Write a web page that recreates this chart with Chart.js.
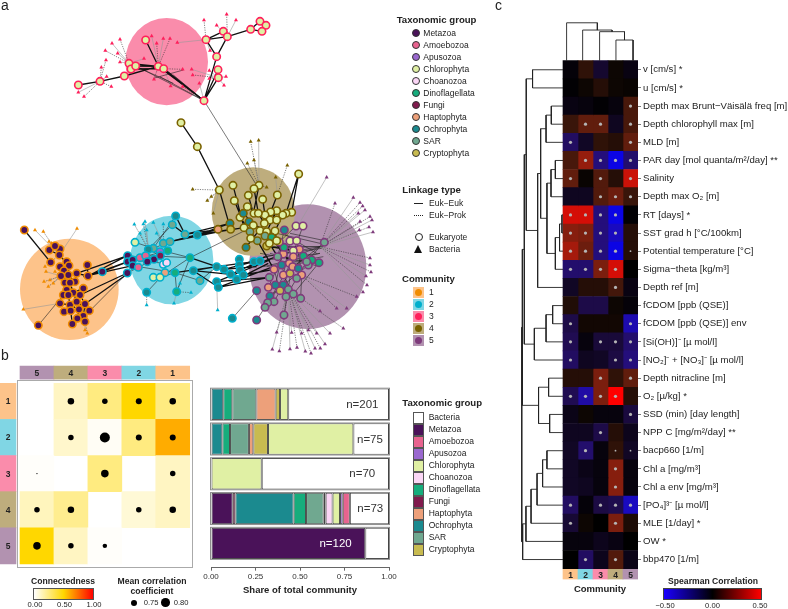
<!DOCTYPE html>
<html>
<head>
<meta charset="utf-8">
<title>Plankton community network</title>
<script src="https://cdn.jsdelivr.net/npm/chart.js"></script>
<style>
  html, body { margin: 0; background: #fff; }
  #page { position: relative; width: 788px; height: 609px; overflow: hidden; font-family: "Liberation Sans", Arial, sans-serif; color: #222; }
  canvas { position: absolute; }
  .txt { position: absolute; white-space: nowrap; line-height: 1; }
  .box { position: absolute; box-sizing: border-box; }
</style>
</head>
<body>
<div id="page">
  <canvas id="network" width="378" height="356" style="left:0;top:0"></canvas>
  <canvas id="connect" width="194" height="208" style="left:0;top:360px"></canvas>
  <canvas id="shares" width="200" height="216" style="left:200px;top:380px"></canvas>
  <canvas id="spearman" width="288" height="609" style="left:500px;top:0"></canvas>
</div>
<script>
// ---------- shared names and colours ----------
const taxa = { M: 'Metazoa', A: 'Amoebozoa', P: 'Apusozoa', C: 'Chlorophyta', N: 'Choanozoa', D: 'Dinoflagellata', F: 'Fungi', H: 'Haptophyta', O: 'Ochrophyta', S: 'SAR', Y: 'Cryptophyta' };
const taxaColors = { M: '#4a1259', A: '#e8638f', P: '#9a68cf', C: '#e0f0a4', N: '#fbd6f6', D: '#16ad7c', F: '#801a4d', H: '#eda07a', O: '#1b8a8f', S: '#70a890', Y: '#c8bb50' };
const communityFill = { 1: '#fdc38a', 2: '#80d6e4', 3: '#fa8cab', 4: '#bead7d', 5: '#b292b0' };
const communityEdge = { 1: '#f08c00', 2: '#00afcc', 3: '#ff1f5b', 4: '#7a6200', 5: '#7f3b7c' };

// ---------- panel a: network, values in layout units ----------
const blob1 = [208, 868, 148, 152];
const blob2 = [515, 780, 125, 133];
const blob3 = [500, 185, 124, 131];
const blob4 = [760, 635, 125, 133];
const blob5 = [923, 800, 176, 187];

const nodes3 = [[437,120,'C'],[387,190,'C'],[393,207,'C'],[407,198,'C'],[373,228,'C'],[300,244,'C'],[235,255,'C'],[475,199,'C'],[491,206,'C'],[618,119,'C'],[670,94,'C'],[682,110,'C'],[650,170,'C'],[654,209,'C'],[655,233,'C'],[612,302,'C'],[752,88,'C'],[780,64,'C'],[798,76,'C'],[786,94,'C']];
const nodes1 = [[73,690,'M'],[148,750,'M'],[180,747,'M'],[165,738,'M'],[178,765,'M'],[152,787,'M'],[200,785,'M'],[207,797,'M'],[180,800,'M'],[262,795,'M'],[192,812,'M'],[183,828,'M'],[205,825,'M'],[230,820,'M'],[264,828,'M'],[225,845,'M'],[195,848,'M'],[210,848,'M'],[250,865,'M'],[200,870,'M'],[190,885,'M'],[220,878,'M'],[240,885,'M'],[180,910,'M'],[210,915,'M'],[192,935,'M'],[212,932,'M'],[237,928,'M'],[255,912,'M'],[268,932,'M'],[250,948,'M'],[232,955,'M'],[217,972,'M'],[255,965,'M'],[115,976,'M'],[205,885,'M'],[230,905,'M']];
const nodes2 = [[527,648,'O'],[517,674,'S'],[405,727,'C'],[555,703,'S'],[592,705,'O'],[490,730,'S'],[510,725,'S'],[460,745,'S'],[445,748,'O'],[503,752,'D'],[480,755,'P'],[383,767,'M'],[383,785,'M'],[398,780,'M'],[398,797,'M'],[420,773,'A'],[437,767,'A'],[462,778,'M'],[481,767,'F'],[442,785,'M'],[415,802,'A'],[382,819,'M'],[307,815,'M'],[570,773,'D'],[490,793,'N'],[500,788,'N'],[495,818,'H'],[525,818,'D'],[460,832,'C'],[480,832,'C'],[580,812,'O'],[600,842,'S'],[530,875,'D'],[440,877,'O'],[650,800,'O'],[672,808,'O'],[692,823,'O'],[718,778,'O'],[718,795,'O'],[720,810,'O'],[730,825,'O'],[710,838,'O'],[650,845,'O'],[655,862,'O'],[762,785,'O'],[780,783,'O'],[697,955,'O']];
const nodes5 = [[973,727,'S'],[957,788,'D'],[935,780,'D'],[925,795,'S'],[910,768,'D'],[898,748,'H'],[880,752,'C'],[880,770,'H'],[868,790,'H'],[850,762,'H'],[852,742,'D'],[838,726,'Y'],[853,690,'O'],[888,678,'C'],[909,678,'C'],[870,723,'C'],[890,722,'C'],[833,770,'S'],[845,795,'O'],[822,808,'H'],[808,832,'S'],[850,825,'H'],[870,820,'Y'],[905,825,'H'],[920,785,'S'],[890,835,'S'],[850,855,'O'],[826,855,'O'],[805,862,'H'],[840,872,'Y'],[865,868,'S'],[880,882,'S'],[902,895,'S'],[858,890,'S'],[810,888,'O'],[822,905,'S'],[803,908,'S'],[795,922,'S'],[852,945,'S'],[770,960,'O'],[770,872,'O'],[878,800,'H'],[895,805,'O']];
const nodes4 = [[896,522,'C'],[699,556,'C'],[658,570,'C'],[777,556,'C'],[762,566,'C'],[745,586,'C'],[703,602,'C'],[788,598,'C'],[832,585,'C'],[742,620,'C'],[762,640,'C'],[720,652,'C'],[730,640,'O'],[875,637,'C'],[858,640,'C'],[848,645,'C'],[830,632,'C'],[812,636,'C'],[795,645,'C'],[775,640,'C'],[810,660,'C'],[830,660,'C'],[793,670,'C'],[747,665,'O'],[690,670,'O'],[692,688,'Y'],[654,688,'H'],[732,683,'C'],[760,676,'C'],[750,695,'S'],[780,692,'C'],[825,693,'C'],[800,695,'C'],[772,722,'S'],[738,742,'O'],[752,715,'C'],[795,708,'S'],[815,712,'D'],[800,738,'Y'],[808,730,'C'],[830,722,'C'],[543,368,'C'],[592,440,'C']];

const bact1 = [[105,690],[130,695],[231,686],[155,730],[147,725],[135,800],[138,815],[132,845],[160,850],[145,860],[150,840],[165,815],[70,928],[262,1000],[255,990]];
const bact2 = [[403,673],[435,665],[430,672],[460,668],[490,672],[420,700],[470,700],[440,690],[440,915],[522,910],[573,878],[653,930],[540,850]];
const bact3 = [[455,108],[470,130],[490,116],[510,116],[532,128],[612,60],[650,76],[680,43],[708,60],[360,118],[336,130],[316,152],[353,160],[318,180],[360,186],[304,202],[320,230],[334,260],[235,277],[252,290],[628,212],[628,236],[678,230],[672,256],[432,176],[462,238],[512,258],[548,208],[575,208],[578,225],[598,250],[548,260],[630,152]];
const bact4 = [[752,425],[776,421],[742,490],[762,480],[862,496],[827,532],[578,568],[622,602],[634,590],[640,640],[800,562]];
const bact5 = [[980,532],[1005,610],[1060,593],[1080,608],[1075,640],[1088,618],[1095,630],[1110,650],[1116,660],[1107,681],[1119,696],[1080,665],[1078,690],[1110,774],[1110,795],[1113,816],[1098,828],[1101,855],[1089,876],[1070,890],[1040,925],[1010,925],[960,933],[1030,985],[990,1000],[950,1000],[925,990],[905,1000],[875,998],[830,997],[817,1048],[838,1053],[870,1047],[891,1043],[916,1054],[933,1060],[945,1045],[961,1045],[975,1032]];

const hubs1 = [[178,765],[192,812],[183,828],[200,870],[180,910],[255,965]];
const hubs2 = [[460,745],[445,748],[490,730],[530,875],[570,773],[440,877],[650,845]];
const hubs3 = [[475,199],[491,206],[387,190],[373,228],[618,119],[612,302],[682,110],[655,233],[300,244]];
const hubs4 = [[742,620],[777,556],[762,566],[703,602],[658,570],[699,556],[832,585]];
const hubs5 = [[880,752],[850,795],[920,785],[905,825],[865,868],[960,740],[880,700]];

const heavyEdges = [
  [235,255,300,244],[300,244,373,228],[387,190,475,199],[407,198,475,199],[393,207,491,206],[437,120,475,199],[618,119,650,170],[618,119,670,94],[682,110,650,170],[670,94,682,110],[618,119,682,110],[752,88,682,110],[752,88,780,64],[780,64,798,76],[786,94,798,76],[752,88,786,94],[612,302,654,209],[612,302,655,233],[612,302,650,170],[612,302,491,206],[612,302,475,199],[373,228,475,199],
  [543,368,592,440],[592,440,658,570],
  [73,690,152,787],[148,750,178,765],[180,747,178,765],[165,738,178,765],[178,765,207,797],[200,785,192,812],[207,797,205,825],[180,800,205,825],[230,820,225,845],[205,825,225,845],[192,812,195,848],[183,828,210,848],[225,845,200,870],[210,848,220,878],[250,865,220,878],[200,870,190,885],[195,848,205,885],[220,878,230,905],[240,885,255,912],[205,885,210,915],[180,910,210,915],[192,935,212,932],[210,915,237,928],[230,905,268,932],[255,912,250,948],[237,928,232,955],[212,932,217,972],[250,948,255,965],[262,795,264,828],[230,820,264,828],[264,828,307,815],
  [264,828,383,785],[230,820,383,767],[250,830,398,797],[307,815,398,780],[264,828,382,767],[255,912,382,822],[240,885,382,819],
  [527,648,555,703],[517,674,555,703],[555,703,690,670],[510,725,692,688],[490,730,654,688],[592,705,690,670],[592,705,732,683],[555,703,654,688],[592,705,692,688],
  [525,818,650,800],[570,773,650,800],[580,812,650,800],[650,800,762,785],[672,808,762,785],[692,823,780,783],[718,795,800,770],[650,845,810,780],[655,862,820,800],[720,810,850,762],[710,838,805,790],[730,825,822,808],[650,845,808,832],[655,862,808,832],[672,808,770,800],[580,812,655,862],[580,812,692,823],[692,823,710,838],
  [896,522,875,637],[896,522,858,640],[658,570,692,688],[699,556,732,683],[777,556,760,640],[762,566,775,640],[745,586,760,640],[703,602,725,655],[788,598,795,645],[832,585,812,636],[742,620,775,640],[775,640,793,670],[795,645,810,660],[812,636,830,660],[848,645,825,693],[830,632,800,695],[730,640,780,692],[747,665,800,695],[720,652,772,722],[760,676,815,712],[793,670,738,742],[780,692,808,730],[825,693,830,722],
  [800,738,880,752],[815,712,850,762],[830,722,870,790],[808,730,833,770],[772,722,822,808]
];
const lightEdges = [
  [612,302,770,556],[115,976,190,885],[697,955,770,872],[770,960,795,922],[270,932,382,819],
  [527,648,460,745],[517,674,445,748],[405,727,460,745],[460,745,570,773],[570,773,530,875],[525,818,530,875],[440,877,495,818],[570,773,480,832],[600,842,525,818],[592,705,510,725],[437,767,570,773],[398,797,525,818],[442,785,495,790],[383,767,462,778],[383,785,481,767],[398,780,442,785],[415,802,462,778],[420,773,503,752],[460,832,495,818],[480,832,525,818],[382,819,415,802],[420,773,437,767],[445,748,481,767],[490,730,503,752],[510,725,460,745],[600,842,650,800],[570,773,738,690],
  [960,740,800,770],[960,740,850,742],[960,740,880,770],[975,727,850,825],[958,788,868,790],[957,788,880,882],[925,795,810,888],[910,768,803,908],[898,748,795,922],[880,770,852,945],[850,762,805,862],[852,742,826,855],[853,690,833,770],[888,678,838,726],[909,678,868,790],[870,723,850,825],[890,722,905,825],[833,770,800,780],[845,795,865,868],[822,808,840,872],[850,825,880,882],[905,825,902,895],[920,785,890,835],[890,835,858,890],[850,855,822,905],[920,785,960,740],[800,780,960,760],[820,740,970,740],[790,800,960,760],[780,760,950,790],[810,760,960,800],[830,700,960,730],[850,700,950,760],[870,700,965,720],[800,800,970,770],[790,770,965,745],
  [475,199,612,302],[407,198,612,302],[505,215,612,302],[480,230,612,302],[520,225,612,302],[460,235,550,210],[387,190,520,250]
];

// ---------- panel b: connectedness between communities ----------
const connectColumns = ['5', '4', '3', '2', '1'];
const connectRows = ['1', '2', '3', '4', '5'];
const connectRow1 = [null, 0.12, 0.25, 0.5, 0.25];
const connectRow2 = [null, 0.1, 0.02, 0.25, 0.6];
const connectRow3 = [0.01, null, 0.25, null, 0.12];
const connectRow4 = [0.13, 0.22, null, 0.08, 0.12];
const connectRow5 = [0.5, 0.12, 0.01, null, null];
const meanCorrRow1 = [null, 0.76, 0.74, 0.75, 0.76];
const meanCorrRow2 = [null, 0.74, 0.827, 0.75, 0.75];
const meanCorrRow3 = [0.66, null, 0.78, null, 0.74];
const meanCorrRow4 = [0.74, 0.76, null, 0.74, 0.76];
const meanCorrRow5 = [0.78, 0.74, 0.72, null, null];

// ---------- panel b: community composition ----------
const shareLabels = ['n=201', 'n=75', 'n=70', 'n=73', 'n=120'];
const shareLabelAt = [0.85, 0.893, 0.85, 0.895, 0.70];
const shareMetazoa = [0, 0, 0, 0.122, 0.867];
const shareFungi = [0, 0, 0, 0.015, 0];
const shareOchrophyta = [0.069, 0.064, 0, 0.327, 0];
const shareDino = [0.051, 0.043, 0, 0.07, 0];
const shareSAR = [0.135, 0.106, 0, 0.099, 0];
const shareHapto = [0.108, 0.025, 0, 0.011, 0];
const shareChoano = [0, 0, 0, 0.039, 0];
const shareCrypto = [0.025, 0.082, 0, 0, 0];
const shareChloro = [0.046, 0.48, 0.285, 0.042, 0];
const shareApuso = [0, 0, 0, 0.015, 0];
const shareAmoebo = [0, 0, 0, 0.04, 0];
const shareBacteria = [0.566, 0.2, 0.715, 0.22, 0.133];

// ---------- panel c: Spearman correlation per community ----------
const envLabels = ['v [cm/s] *', 'u [cm/s] *', 'Depth max Brunt−Väisälä freq [m]', 'Depth chlorophyll max [m]', 'MLD [m]', 'PAR day [mol quanta/m²/day] **', 'Salinity', 'Depth max O₂ [m]', 'RT [days] *', 'SST grad h [°C/100km]', 'Potential temperature [°C]', 'Sigma−theta [kg/m³]', 'Depth ref [m]', 'fCDOM [ppb (QSE)]', 'fCDOM [ppb (QSE)] env', '[Si(OH)]⁻ [µ mol/l]', '[NO₂]⁻ + [NO₃]⁻ [µ mol/l]', 'Depth nitracline [m]', 'O₂ [µ/kg] *', 'SSD (min) [day length]', 'NPP C [mg/m²/day] **', 'bacp660 [1/m]', 'Chl a [mg/m³]', 'Chl a env [mg/m³]', '[PO₄]³⁻ [µ mol/l]', 'MLE [1/day] *', 'OW *', 'bbp470 [1/m]'];
const corr1 = [-.02,-.01,-.04,.12,-.2,.15,.2,-.07,.42,.27,.33,-.22,-.08,.07,-.15,-.17,-.2,.08,-.17,-.05,-.07,-.08,-.08,-.08,-.2,-.11,-.03,0];
const corr2 = [.1,.03,-.03,.2,-.08,.3,.02,-.07,.42,.25,.22,-.22,.08,-.15,.04,-.03,-.07,.08,-.33,.03,-.07,-.22,-.05,-.07,-.02,.03,-.03,-.2];
const corr3 = [-.1,.08,-.01,.2,.1,-.25,.17,.17,-.25,-.25,-.25,.25,.08,-.15,.04,-.12,-.08,.25,.25,-.03,-.15,-.03,-.03,-.03,-.14,0,-.06,-.06];
const corr4 = [.03,.03,-.03,-.07,.08,-.45,.08,.22,-.45,-.38,-.45,.42,.14,.03,.04,-.12,-.14,.1,.5,-.03,.08,.1,.27,.27,-.16,.25,-.04,.17];
const corr5 = [-.04,.02,.15,.15,.2,-.22,.4,.12,-.01,.08,.08,0,-.04,-.02,-.35,-.22,-.25,.2,.08,-.13,-.06,-.08,-.03,-.03,-.38,.06,0,-.05];
// rows with a significant correlation, one list per community
const signif1 = [4,6,8,9,10,11,14,15,16,18,24,25];
const signif2 = [3,5,8,9,10,11,18,21,27];
const signif3 = [3,5,6,7,8,9,10,11,15,17,18,20,24];
const signif4 = [5,7,8,9,10,11,12,15,16,18,22,23,24,25,27];
const signif5 = [2,3,4,5,6,7,14,15,16,17,19,24];
const weakDots = [[3.5, 21], [4.5, 21], [4.5, 10]];
// dendrograms: [height, left, right], a number is a leaf
const rowTree = [2.75,
  [2.71,
    [2.58,
      [2.45, [2.03, 0, 1],
        [1.69,
          [1.49, [1.13, [.78, 2, 3], 4],
            [1.07, [.8, [.51, 5, 6], 7], [.51, [.23, [.07, 8, 9], 10], 11]]],
          12]],
      [1.91, [1.13, [.69, 13, 14], 15], 16]],
    [1.63, [.96, 17, 18], [.89, 19, 20]]],
  [2.69, [2.47, [2.13, [1.73, [1.36, [1.07, 21, 22], 23], 24], 25], 26], 27]];
const colTree = [2.09, 0, [1.69, 1, [1.6, 2, [1.14, 3, 4]]]];
const colLeafAt = [0.24, 1.31, 2.44, 3.53, 4.67];

// ---------- helpers ----------
Chart.defaults.font.family = '"Liberation Sans", Arial, sans-serif';
Chart.defaults.animation = false;
const page = document.getElementById('page');

function addText(str, x, y, opts = {}) {
  const el = document.createElement('div');
  el.className = 'txt';
  el.textContent = str;
  el.style.left = x + 'px';
  el.style.top = y + 'px';
  el.style.fontSize = (opts.size || 8.5) + 'px';
  if (opts.bold) el.style.fontWeight = 'bold';
  if (opts.color) el.style.color = opts.color;
  el.style.transform = (opts.center ? 'translateX(-50%) ' : '') + 'translateY(-50%)';
  page.appendChild(el);
}

function addBox(x, y, w, h, css) {
  const el = document.createElement('div');
  el.className = 'box';
  el.style.cssText = `left:${x}px;top:${y}px;width:${w}px;height:${h}px;${css}`;
  page.appendChild(el);
}

function addDot(x, y, r, fill, border) {
  addBox(x - r, y - r, 2 * r, 2 * r, `border-radius:50%;background:${fill};` + (border ? `border:1px solid ${border};` : ''));
}

// flat list of edges -> one line dataset with gaps between edges
function edgePoints(edges) {
  const pts = [];
  edges.forEach(e => {
    pts.push({ x: e[0], y: e[1] }, { x: e[2], y: e[3] }, { x: null, y: null });
  });
  return pts;
}

function lineSet(edges, color, width, dash, order) {
  return { type: 'scatter', data: edgePoints(edges), showLine: true, borderColor: color, borderWidth: width, borderDash: dash, pointRadius: 0, order: order, spanGaps: false };
}

// each bacterium hangs off the closest of the hubs read for its community
function bacteriaEdges(bact, hubs) {
  return bact.map(b => {
    let best = hubs[0], bestD = Infinity;
    hubs.forEach(h => {
      const d = Math.hypot(h[0] - b[0], h[1] - b[1]);
      if (d < bestD) { bestD = d; best = h; }
    });
    return [b[0], b[1], best[0], best[1]];
  });
}

function mix(a, b, t) { return Math.round(a + (b - a) * t); }

function connectColor(v) {
  if (v < 0.5) {
    const t = v / 0.5;
    return `rgb(255,${mix(255, 215, t)},${mix(255, 0, t)})`;
  }
  const t = (v - 0.5) / 0.5;
  return `rgb(255,${mix(215, 0, t)},0)`;
}

function spearmanColor(v) {
  const t = Math.min(1, Math.abs(v) / 0.5);
  const bump = Math.sin(Math.PI * t);
  if (v >= 0) return `rgb(${Math.round(255 * Math.pow(t, 1.05))},${Math.round(30 * bump)},${Math.round(14 * bump)})`;
  return `rgb(${Math.round(36 * bump)},${Math.round(14 * bump)},${Math.round(255 * Math.pow(t, 1.05))})`;
}

// walks a dendrogram, pos maps a leaf to its place along the leaves, flip swaps x and y
function treeEdges(node, leafAt, flip, out) {
  if (typeof node === 'number') return { at: leafAt(node), h: 0 };
  const a = treeEdges(node[1], leafAt, flip, out);
  const b = treeEdges(node[2], leafAt, flip, out);
  const h = -node[0];
  const seg = (p1, h1, p2, h2) => out.push(flip ? [p1, h1, p2, h2] : [h1, p1, h2, p2]);
  seg(a.at, a.h, a.at, h);
  seg(a.at, h, b.at, h);
  seg(b.at, h, b.at, b.h);
  return { at: (a.at + b.at) / 2, h: h };
}

// ---------- panel a chart ----------
const blobPlugin = {
  id: 'blobs',
  beforeDatasetsDraw(chart) {
    const { ctx, scales: { x, y } } = chart;
    [[blob5, 5], [blob4, 4], [blob1, 1], [blob2, 2], [blob3, 3]].forEach(([b, c]) => {
      const cx = x.getPixelForValue(b[0]), cy = y.getPixelForValue(b[1]);
      const rx = x.getPixelForValue(b[0] + b[2]) - cx, ry = y.getPixelForValue(b[1] + b[3]) - cy;
      ctx.save();
      ctx.fillStyle = communityFill[c];
      ctx.beginPath();
      ctx.ellipse(cx, cy, rx, Math.abs(ry), 0, 0, 2 * Math.PI);
      ctx.fill();
      ctx.restore();
    });
  }
};

function nodeSet(nodes, community, order) {
  return {
    type: 'scatter',
    data: nodes.map(n => ({ x: n[0], y: n[1] })),
    pointRadius: 3.7,
    pointBorderWidth: 1.6,
    pointBackgroundColor: nodes.map(n => taxaColors[n[2]]),
    pointBorderColor: communityEdge[community],
    order: order
  };
}

function bactSet(bact, community) {
  return {
    type: 'scatter',
    data: bact.map(b => ({ x: b[0], y: b[1] })),
    pointStyle: 'triangle',
    pointRadius: 2.3,
    pointBorderWidth: 0,
    pointBackgroundColor: communityEdge[community],
    order: 6
  };
}

const allBact = [[bact1, hubs1], [bact2, hubs2], [bact3, hubs3], [bact4, hubs4], [bact5, hubs5]];
const bactLinks = allBact.flatMap(([b, h]) => bacteriaEdges(b, h));

new Chart(document.getElementById('network'), {
  type: 'scatter',
  plugins: [blobPlugin],
  data: {
    datasets: [
      nodeSet(nodes4, 4, 1),
      nodeSet(nodes5, 5, 2),
      nodeSet(nodes2, 2, 3),
      nodeSet(nodes1, 1, 4),
      nodeSet(nodes3, 3, 5),
      bactSet(bact1, 1), bactSet(bact2, 2), bactSet(bact3, 3), bactSet(bact4, 4), bactSet(bact5, 5),
      lineSet(heavyEdges, '#111', 1.3, [], 7),
      lineSet(lightEdges, '#222', 0.6, [], 8),
      lineSet(bactLinks.filter((_, i) => i % 2 === 0), '#999', 0.6, [], 9),
      lineSet(bactLinks.filter((_, i) => i % 2 === 1), '#333', 0.6, [1.2, 1.2], 10)
    ]
  },
  options: {
    responsive: false,
    layout: { padding: 0, autoPadding: false },
    plugins: { legend: { display: false }, tooltip: { enabled: false } },
    scales: {
      x: { type: 'linear', display: false, min: 0, max: 1134 },
      y: { type: 'linear', display: false, min: 0, max: 1068, reverse: true }
    }
  }
});

// ---------- panel b connectedness chart ----------
const connectRowsData = [connectRow1, connectRow2, connectRow3, connectRow4, connectRow5];
const meanCorrData = [meanCorrRow1, meanCorrRow2, meanCorrRow3, meanCorrRow4, meanCorrRow5];
const connectCells = [];
const connectDots = [];
connectRowsData.forEach((row, r) => {
  row.forEach((v, c) => {
    if (v !== null) connectCells.push({ x: c + 0.5, y: [r, r + 1], v: v });
  });
  meanCorrData[r].forEach((m, c) => {
    if (m !== null) connectDots.push({ x: c + 0.5, y: r + 0.5, m: m });
  });
});
const cellW = 33.94;

new Chart(document.getElementById('connect'), {
  type: 'bar',
  data: {
    datasets: [
      {
        type: 'scatter', data: connectDots, order: 1,
        pointRadius: ctx => 3 + (ctx.raw.m - 0.75) * 26,
        pointBackgroundColor: '#000', pointBorderWidth: 0
      },
      {
        data: connectCells, grouped: false, barThickness: cellW, inflateAmount: 0.33, order: 2,
        backgroundColor: ctx => connectColor(ctx.raw.v)
      },
      {
        data: connectColumns.map((c, i) => ({ x: i + 0.5, y: [-0.479, -0.111], c: c })),
        grouped: false, barThickness: cellW, inflateAmount: 0.33, order: 3,
        backgroundColor: ctx => communityFill[ctx.raw.c]
      },
      {
        data: connectRows.map((c, i) => ({ x: -0.354, y: [i, i + 1], c: c })),
        grouped: false, barThickness: 16, inflateAmount: 0.33, order: 3,
        backgroundColor: ctx => communityFill[ctx.raw.c]
      }
    ]
  },
  options: {
    responsive: false,
    layout: { padding: 0, autoPadding: false },
    plugins: { legend: { display: false }, tooltip: { enabled: false } },
    scales: {
      x: { type: 'linear', display: false, offset: false, min: -20 / cellW, max: 174 / cellW },
      y: { type: 'linear', display: false, reverse: true, min: -0.645, max: 5.113 }
    }
  }
});
addBox(16.5, 380, 176.5, 188, 'border:1px solid #aaa;');
connectColumns.forEach((c, i) => addText(c, 20 + cellW * (i + 0.5), 372.5, { bold: true, size: 8.5, center: true }));
connectRows.forEach((c, i) => addText(c, 8, 383.3 + 36.12 * (i + 0.5), { bold: true, size: 8.5, center: true }));

// ---------- panel b stacked shares ----------
const shareStack = [
  [shareMetazoa, taxaColors.M], [shareFungi, taxaColors.F], [shareOchrophyta, taxaColors.O], [shareDino, taxaColors.D],
  [shareSAR, taxaColors.S], [shareHapto, taxaColors.H], [shareChoano, taxaColors.N], [shareCrypto, taxaColors.Y],
  [shareChloro, taxaColors.C], [shareApuso, taxaColors.P], [shareAmoebo, taxaColors.A], [shareBacteria, '#ffffff']
];

const shareNotes = {
  id: 'shareNotes',
  afterDatasetsDraw(chart) {
    const { ctx, scales: { x, y } } = chart;
    ctx.save();
    ctx.textAlign = 'center';
    ctx.textBaseline = 'middle';
    ctx.font = '11.5px "Liberation Sans", Arial, sans-serif';
    shareLabels.forEach((lab, i) => {
      const yp = y.getPixelForValue(i);
      ctx.strokeStyle = '#8c8c8c';
      ctx.lineWidth = 1;
      ctx.strokeRect(x.left - 0.5, yp - 16, x.right - x.left + 1, 32);
      ctx.fillStyle = lab === 'n=120' ? '#fff' : '#333';
      ctx.fillText(lab, x.getPixelForValue(shareLabelAt[i]), yp + 0.5);
    });
    ctx.restore();
  }
};

new Chart(document.getElementById('shares'), {
  type: 'bar',
  plugins: [shareNotes],
  data: {
    datasets: shareStack.map(([vals, color]) => ({
      data: vals.map((v, i) => (v > 0 ? { x: v, y: i } : null)).filter(d => d),
      backgroundColor: color,
      borderColor: '#444',
      borderWidth: 1,
      borderSkipped: false,
      barThickness: 31.4,
      inflateAmount: 0
    }))
  },
  options: {
    indexAxis: 'y',
    responsive: false,
    layout: { padding: { left: 11, right: 11, top: 6.8, bottom: 0 }, autoPadding: false },
    plugins: { legend: { display: false }, tooltip: { enabled: false } },
    scales: {
      x: {
        type: 'linear', stacked: true, min: 0, max: 1,
        afterFit: s => { s.height = 28.3; },
        border: { display: true, color: '#666' },
        grid: { drawOnChartArea: false, tickLength: 3, color: '#666' },
        ticks: { stepSize: 0.25, padding: 1, maxRotation: 0, color: '#333', font: { size: 8 }, callback: v => v.toFixed(2) },
        title: { display: true, text: 'Share of total community', color: '#222', padding: 0, font: { size: 9.5, weight: 'bold' } }
      },
      y: { type: 'linear', stacked: true, display: false, reverse: true, min: -0.5, max: 4.7, offset: false }
    }
  }
});

// ---------- panel c chart ----------
const corrCols = [corr1, corr2, corr3, corr4, corr5];
const signifCols = [signif1, signif2, signif3, signif4, signif5];
const stripLabels = ['1', '2', '3', '4', '5'];
const treeLines = [];
treeEdges(rowTree, i => i + 0.5, false, treeLines);
treeEdges(colTree, i => colLeafAt[i], true, treeLines);

const envDatasets = corrCols.map((vals, c) => ({
  data: vals.map((v, r) => ({ x: c + 0.5, y: [r, r + 1], v: v })),
  grouped: false, barThickness: 15, inflateAmount: 0.33, order: 3,
  backgroundColor: ctx => spearmanColor(ctx.raw.v)
}));

new Chart(document.getElementById('spearman'), {
  type: 'bar',
  data: {
    datasets: [
      lineSet(treeLines, '#222', 0.9, [], 2),
      {
        type: 'scatter', order: 1,
        data: signifCols.flatMap((rows, c) => rows.map(r => ({ x: c + 0.5, y: r + 0.5 }))),
        pointRadius: 1.6, pointBackgroundColor: '#b5b5b5', pointBorderWidth: 0
      },
      {
        type: 'scatter', order: 1,
        data: weakDots.map(d => ({ x: d[0], y: d[1] + 0.5 })),
        pointRadius: 0.9, pointBackgroundColor: '#b5b5b5', pointBorderWidth: 0
      },
      ...envDatasets,
      {
        data: stripLabels.map((c, i) => ({ x: i + 0.5, y: [28.04, 28.6], c: c })),
        grouped: false, barThickness: 15, inflateAmount: 0.33, order: 3,
        backgroundColor: ctx => communityFill[ctx.raw.c]
      }
    ]
  },
  options: {
    responsive: false,
    layout: { padding: { left: 18, right: 0, top: 15.35, bottom: 29.5 }, autoPadding: false },
    plugins: { legend: { display: false }, tooltip: { enabled: false } },
    scales: {
      x: { type: 'linear', display: false, offset: false, min: -3, max: 5 },
      y: {
        type: 'linear', position: 'right', reverse: true, min: -2.5, max: 28.6,
        afterFit: s => { s.width = 150; },
        afterBuildTicks: s => { s.ticks = envLabels.map((_, i) => ({ value: i + 0.5 })); },
        border: { display: false },
        grid: { drawOnChartArea: false, tickLength: 3, color: '#777' },
        ticks: { autoSkip: false, padding: 2, color: '#222', font: { size: 9.6 }, callback: v => envLabels[v - 0.5] }
      }
    }
  }
});
stripLabels.forEach((c, i) => addText(c, 563 + 15 * (i + 0.5), 574.5, { bold: true, size: 8.5, center: true }));
addText('Community', 600, 588.5, { bold: true, size: 9.5, center: true });

// ---------- legends and letters ----------
addText('a', 1, 5, { size: 14 });
addText('b', 1, 355, { size: 14 });
addText('c', 495, 5, { size: 14 });

addText('Taxonomic group', 396.7, 20, { bold: true, size: 9.6 });
Object.keys(taxa).forEach((k, i) => {
  addDot(416.3, 32.7 + 12 * i, 4, taxaColors[k], '#333');
  addText(taxa[k], 423.3, 32.5 + 12 * i, { size: 8.5 });
});

addText('Linkage type', 402.3, 189.7, { bold: true, size: 9.6 });
addBox(414, 202.5, 9, 1, 'background:#222;');
addText('Euk−Euk', 429, 203, { size: 8.5 });
addBox(414, 215, 9, 1, 'border-top:1px dotted #222;');
addText('Euk−Prok', 429, 215, { size: 8.5 });
addDot(418.7, 237.3, 4, '#fff', '#222');
addText('Eukaryote', 429, 237, { size: 8.5 });
addBox(414, 245, 0, 0, 'border-left:4.8px solid transparent;border-right:4.8px solid transparent;border-bottom:8px solid #111;');
addText('Bacteria', 429, 249, { size: 8.5 });

addText('Community', 402, 279.3, { bold: true, size: 9.6 });
stripLabels.forEach((c, i) => {
  const yc = 292.3 + 12 * i;
  addBox(413.3, yc - 5.5, 11, 11, `background:${communityFill[c]};`);
  addDot(418.8, yc, 3.6, communityEdge[c]);
  addText(c, 429, yc, { size: 8.5 });
});

addText('Connectedness', 63, 580.7, { bold: true, size: 8.6, center: true });
addBox(33.3, 587.7, 60.6, 12.3, 'border:1px solid #555;background:linear-gradient(to right,#fff,#ffd700 50%,#f00);');
['0.00', '0.50', '1.00'].forEach((t, i) => addText(t, 35 + 29.5 * i, 605, { size: 7.6, center: true }));
addText('Mean correlation', 152, 581, { bold: true, size: 8.6, center: true });
addText('coefficient', 152, 591, { bold: true, size: 8.6, center: true });
addDot(134, 602.7, 3, '#000');
addText('0.75', 143.7, 602.5, { size: 7.6 });
addDot(165.7, 602.7, 4.3, '#000');
addText('0.80', 173.7, 602.5, { size: 7.6 });

addText('Taxonomic group', 402.3, 402.7, { bold: true, size: 9.6 });
const shareLegend = [['Bacteria', '#fff']].concat(Object.keys(taxa).map(k => [taxa[k], taxaColors[k]]));
shareLegend.forEach(([name, color], i) => {
  addBox(413.3, 412.3 + 12 * i, 11, 12, `background:${color};border:1px solid #555;`);
  addText(name, 428.7, 417.3 + 12 * i, { size: 8.5 });
});

addText('Spearman Correlation', 713, 581, { bold: true, size: 8.6, center: true });
addBox(663, 588, 99, 12, 'border:1px solid #444;background:linear-gradient(to right,#1a00ff,#000 50%,#ff0000);');
['−0.50', '0.00', '0.50'].forEach((t, i) => addText(t, 665 + 47.5 * i, 606, { size: 7.6, center: true }));
</script>
</body>
</html>
